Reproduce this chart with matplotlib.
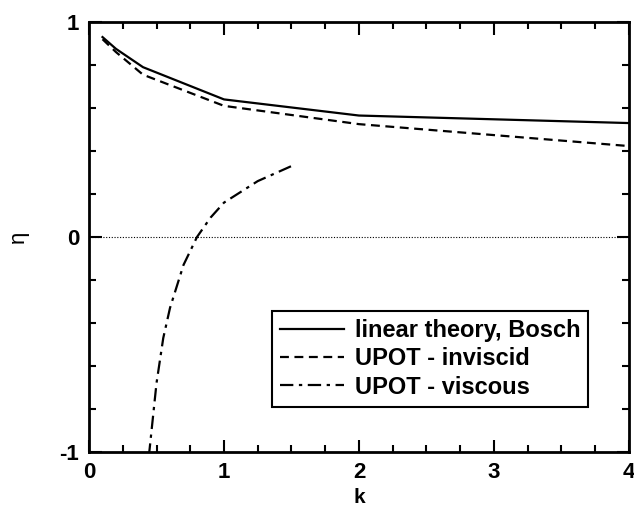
import numpy as np
import matplotlib
matplotlib.use("Agg")
import matplotlib.pyplot as plt
from matplotlib.ticker import MultipleLocator

plt.rcParams['font.family'] = ['Liberation Sans', 'DejaVu Sans']
plt.rcParams['axes.unicode_minus'] = False

# linear theory (Bosch)
k_lin = [0.1, 0.2, 0.4, 1.0, 2.0, 4.0]
eta_lin = [0.93, 0.875, 0.79, 0.64, 0.565, 0.53]

# UPOT inviscid
k_inv = [0.1, 0.2, 0.4, 1.0, 2.0, 4.0]
eta_inv = [0.92, 0.86, 0.755, 0.61, 0.525, 0.423]

# UPOT viscous
k_visc = [0.42, 0.45, 0.5, 0.55, 0.6, 0.7, 0.8, 0.9, 1.0, 1.25, 1.5]
eta_visc = [-1.15, -0.98, -0.68, -0.47, -0.33, -0.13, 0.0, 0.09, 0.16, 0.26, 0.33]

fig = plt.figure(figsize=(6.34, 5.12), dpi=100)
ax = fig.add_axes([0.1404, 0.1172, 0.8516, 0.8398])

ax.axhline(0, color='black', lw=0.8, ls=(0, (1, 1.5)))
ax.plot(k_lin, eta_lin, color='black', lw=1.6, label='linear theory, Bosch')
ax.plot(k_inv, eta_inv, color='black', lw=1.6, ls=(0, (4, 2.5)), label='UPOT - inviscid')
ax.plot(k_visc, eta_visc, color='black', lw=1.6, ls=(0, (6, 2.5, 1.5, 2.5)), label='UPOT - viscous')

ax.set_xlim(0, 4)
ax.set_ylim(-1, 1)
ax.xaxis.set_major_locator(MultipleLocator(1))
ax.xaxis.set_minor_locator(MultipleLocator(0.25))
ax.yaxis.set_major_locator(MultipleLocator(1))
ax.yaxis.set_minor_locator(MultipleLocator(0.2))
ax.tick_params(which='both', direction='in', top=True, right=True, width=1.5)
ax.tick_params(which='major', length=9, labelsize=16, pad=7)
ax.tick_params(which='minor', length=5)
for lab in ax.get_xticklabels() + ax.get_yticklabels():
    lab.set_fontweight('bold')
for s in ax.spines.values():
    s.set_linewidth(2)

ax.set_xlabel('k', fontsize=15, fontweight='bold', labelpad=4)
ax.set_ylabel('η', fontsize=16, labelpad=22)

leg = ax.legend(loc='lower right', bbox_to_anchor=(0.925, 0.105), fancybox=False,
                edgecolor='black', framealpha=1, handlelength=2.7,
                borderpad=0.35, labelspacing=0.22, handletextpad=0.45,
                borderaxespad=0, prop={'size': 17, 'weight': 'bold'})
leg.get_frame().set_linewidth(1.5)

fig.savefig('out.png', dpi=100)
